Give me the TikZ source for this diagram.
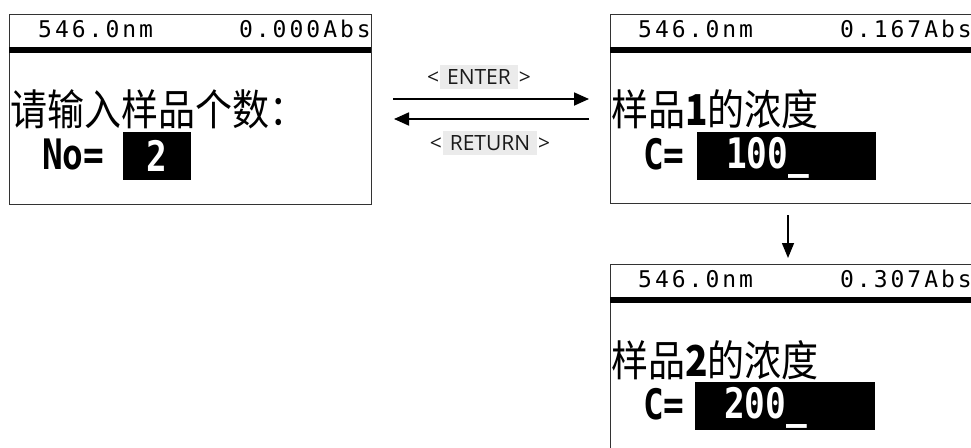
\documentclass[tikz,border=0pt]{standalone}
\usepackage{fontspec}
\usepackage{graphicx}
\setmainfont{Open Sans}
\newfontfamily\cjk{Noto Sans CJK SC}
\newfontfamily\lcd{DejaVu Sans Mono}[LetterSpace=13]
\newfontfamily\lcdm{DejaVu Sans Mono}
\usetikzlibrary{arrows.meta}
\definecolor{keybg}{HTML}{EBEBEB}
\definecolor{keytxt}{HTML}{1A1A1A}
\newcommand\tallcn[1]{\scalebox{1}[1.15]{#1}}
\newcommand\narrowlcd[1]{\scalebox{0.82}[1]{#1}}
\newcommand\keybox[1]{{\fboxsep=0pt\colorbox{keybg}{\hspace{7pt}\rule[-4.5pt]{0pt}{24pt}#1\hspace{7pt}}}}
\begin{document}
\begin{tikzpicture}[x=1pt,y=-1pt,
  screen/.style={draw=black!80, line width=1.3pt, rectangle, inner sep=0pt, anchor=north west, fill=white},
  hline/.style={line width=6pt, black},
  hdr/.style={font=\lcd\fontsize{23}{23}\selectfont, inner sep=0pt},
  cn/.style={font=\cjk\fontsize{37}{37}\selectfont, inner sep=0pt, anchor=west},
  lcdbold/.style={font=\lcdm\bfseries\fontsize{42}{42}\selectfont, inner sep=0pt, anchor=base west},
  inv/.style={lcdbold, text=white},
  key/.style={font=\fontsize{21}{24}\selectfont, text=keytxt, inner sep=0pt},
  arr/.style={-{Triangle[length=15pt,width=13pt]}, line width=1.8pt},
  varr/.style={-{Triangle[length=15pt,width=12pt]}, line width=1.5pt}
]
\clip (0,0) rectangle (971,447);
\fill[white] (0,0) rectangle (971,447);

% ---- screen A (left)
\node[screen, minimum width=362pt, minimum height=190pt] (scrA) at (9,14) {};
\draw[hline] (9,50) -- (371,50);
\node[hdr, anchor=base west] (a1) at (38,37) {546.0nm};
\node[hdr, anchor=base east] (a2) at (371,37) {0.000Abs};
\node[cn] (a3) at (10,109) {\tallcn{请输入样品个数：}};
\node[lcdbold] (a4) at (42,169) {\narrowlcd{No=}};
\fill (123,132) rectangle (191,180);
\node[inv, anchor=center] (a5) at (157,156) {\narrowlcd{2}};

% ---- screen B (top right)
\node[screen, minimum width=380pt, minimum height=189pt] (scrB) at (610,14) {};
\draw[hline] (610,50) -- (990,50);
\node[hdr, anchor=base west] (b1) at (638,37) {546.0nm};
\node[hdr, anchor=base east] (b2) at (972,37) {0.167Abs};
\node[cn] (b3) at (611,109) {\tallcn{样品{\bfseries 1}的浓度}};
\node[lcdbold] (b4) at (643,169) {\narrowlcd{C=}};
\fill (697,132) rectangle (876,180);
\node[inv] (b5) at (726,168) {\narrowlcd{100\_}};

% ---- screen C (bottom right)
\node[screen, minimum width=380pt, minimum height=200pt] (scrC) at (610,264) {};
\draw[hline] (610,300) -- (990,300);
\node[hdr, anchor=base west] (c1) at (638,287) {546.0nm};
\node[hdr, anchor=base east] (c2) at (972,287) {0.307Abs};
\node[cn] (c3) at (611,360) {\tallcn{样品{\bfseries 2}的浓度}};
\node[lcdbold] (c4) at (643,419) {\narrowlcd{C=}};
\fill (695,382) rectangle (875,430);
\node[inv] (c5) at (724,418) {\narrowlcd{200\_}};

% ---- connectors
\coordinate (e1) at (393,99);
\coordinate (e2) at (589,99);
\coordinate (r1) at (589,119);
\coordinate (r2) at (394,119);
\coordinate (v1) at (788,215);
\coordinate (v2) at (788,258);
\draw[arr] (e1) -- (e2);
\draw[arr] (r1) -- (r2);
\draw[varr] (v1) -- (v2);

\node[key] (enter) at (479,77) {<\kern1pt\keybox{ENTER}\kern1pt>};
\node[key] (return) at (490,142.5) {<\kern1pt\keybox{RETURN}\kern1pt>};
\end{tikzpicture}
\end{document}
